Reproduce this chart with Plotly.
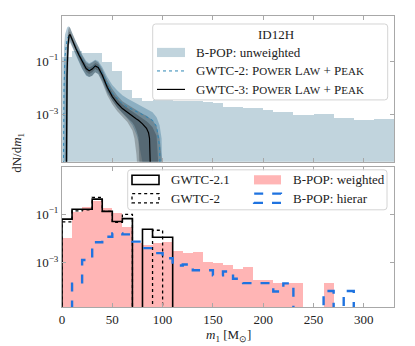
import numpy as np
import plotly.graph_objects as go
from plotly.subplots import make_subplots

# 10 Msun wide bins shared by every histogram
bin_edges = list(range(0, 340, 10))

# top panel: B-POP unweighted, log10(dN/dm1) per bin
log_unweighted = [-0.86, -0.62, -0.69, -0.69, -1.03, -1.36, -2.09, -2.40, -2.48, -2.47,
                  -2.47, -2.48, -2.49, -2.50, -2.52, -2.58, -2.71, -2.71, -2.77, -2.77,
                  -2.84, -2.90, -2.90, -3.02, -3.02, -3.00, -3.00, -3.15, -3.15, -3.20,
                  -3.20, -3.17, -3.17]

# Power Law + Peak fits, log10 values on a common mass grid (-8 = off the axis)
m_grid = [1, 2, 3, 4, 4.5, 5, 6, 7, 8, 10, 12, 14, 17, 20, 24, 27, 30, 33, 36, 40,
          45, 50, 55, 60, 65, 70, 72, 74, 76, 80, 84, 86, 87, 88, 90, 94, 97, 99, 101]
gwtc3_med = [-8, -8, -8, -8, -4.0, -1.5, -0.4, -0.05, 0.0, -0.2, -0.38, -0.55, -0.78, -1.02,
             -1.28, -1.36, -1.30, -1.18, -1.24, -1.52, -1.98, -2.33, -2.58, -2.78, -2.93,
             -3.07, -3.12, -3.17, -3.22, -3.35, -3.52, -3.68, -3.9, -8, -8, -8, -8, -8, -8]
gwtc3_hi90 = [-8, -8, -8, -1.0, -0.6, -0.3, 0.15, 0.28, 0.25, 0.05, -0.13, -0.3, -0.52, -0.78,
              -1.05, -1.12, -1.05, -0.98, -1.05, -1.3, -1.72, -2.05, -2.3, -2.5, -2.63,
              -2.75, -2.8, -2.85, -2.88, -2.97, -3.05, -3.1, -3.13, -3.16, -3.22, -3.45,
              -3.9, -4.6, -8]
gwtc3_lo90 = [-8, -8, -8, -8, -8, -8, -1.5, -0.35, -0.25, -0.42, -0.6, -0.78, -1.02, -1.28,
              -1.52, -1.6, -1.55, -1.42, -1.48, -1.8, -2.28, -2.62, -2.88, -3.08, -3.28,
              -3.6, -3.9, -4.5, -8, -8, -8, -8, -8, -8, -8, -8, -8, -8, -8]
gwtc3_hi50 = [-8, -8, -8, -8, -2.0, -0.9, -0.1, 0.1, 0.1, -0.1, -0.27, -0.44, -0.66, -0.9,
              -1.16, -1.24, -1.18, -1.07, -1.13, -1.40, -1.85, -2.18, -2.43, -2.62, -2.76,
              -2.89, -2.94, -2.99, -3.03, -3.13, -3.25, -3.32, -3.36, -3.40, -3.48, -3.8,
              -8, -8, -8]
gwtc3_lo50 = [-8, -8, -8, -8, -8, -8, -0.8, -0.2, -0.12, -0.3, -0.49, -0.66, -0.9, -1.14,
              -1.40, -1.48, -1.42, -1.30, -1.36, -1.66, -2.12, -2.48, -2.74, -2.95, -3.12,
              -3.3, -3.42, -3.6, -3.85, -8, -8, -8, -8, -8, -8, -8, -8, -8, -8]
gwtc2_med = [-8, -2.0, -0.8, -0.4, -0.3, -0.2, -0.1, -0.05, -0.05, -0.2, -0.38, -0.55, -0.78,
             -1.0, -1.25, -1.33, -1.28, -1.15, -1.2, -1.45, -1.88, -2.2, -2.42, -2.6, -2.72,
             -2.83, -2.87, -2.9, -2.93, -3.0, -3.08, -3.12, -3.14, -3.16, -3.22, -3.45,
             -4.2, -8, -8]
gwtc2_hi = [-8, -0.5, 0.0, 0.15, 0.2, 0.25, 0.3, 0.3, 0.25, 0.05, -0.12, -0.28, -0.5, -0.75,
            -1.0, -1.08, -1.02, -0.95, -1.0, -1.22, -1.6, -1.9, -2.1, -2.28, -2.4, -2.5,
            -2.54, -2.58, -2.62, -2.7, -2.78, -2.82, -2.84, -2.86, -2.92, -3.1, -3.4, -3.9, -8]
gwtc2_lo = [-8, -8, -8, -8, -8, -8, -1.0, -0.4, -0.3, -0.45, -0.62, -0.8, -1.05, -1.3, -1.55,
            -1.6, -1.55, -1.42, -1.48, -1.75, -2.2, -2.5, -2.75, -2.95, -3.15, -3.4, -3.55,
            -3.75, -4.0, -4.8, -8, -8, -8, -8, -8, -8, -8, -8, -8]

# bottom panel histograms, log10(dN/dm1) per bin, None = empty bin
log_gwtc21 = [-1.20, -0.79, -0.79, -0.37, -0.88, -1.30, -1.18, None, -1.62, -1.95, -1.95]
log_gwtc2 = [-1.31, -0.86, -0.82, -0.30, -0.88, -1.33, -1.00, None, None, -1.66]
log_weighted = [-1.98, -0.90, -0.68, -0.42, -0.72, -0.95, -1.50, -2.19, -2.27, -2.16,
                -2.13, -2.50, -2.61, -2.54, -2.96, -3.02, -3.09, -3.27, -3.19, -3.69,
                -3.69, -3.85, -3.85, -3.85, None, None, -3.85]
log_hierar = [None, -3.87, -2.89, -2.16, -1.93, -1.79, -1.83, -2.13, -2.40, -2.61,
              -2.82, -3.12, -3.08, -3.32, -3.32, -3.53, -3.37, -3.67, -3.85, -3.85,
              -3.85, -4.20, -3.86, None, None, None, -4.18, None, -4.18]

x_ticks = [0, 50, 100, 150, 200, 250, 300]

FONT = "Liberation Serif, Times New Roman, serif"
FS = 13
SC = "<span style='font-size:11px'>"
plp_name = "P" + SC + "OWER</span> L" + SC + "AW</span> + P" + SC + "EAK</span>"

C_UNW = "#c1d4dd"
C_PINK = "#ffb5b5"
C_HIER = "#1f73e0"
C_G2 = "#2d86b5"


def lin(vals):
  return [10 ** v if v is not None else None for v in vals]


def padded(vals):
  return list(vals) + [None] * (len(bin_edges) - 1 - len(vals))


def step_xy(vals):
  # matplotlib style "step" outline that drops to the floor at empty bins
  ys = [10 ** v if v is not None else 1e-9 for v in padded(vals)]
  return [bin_edges[0]] + bin_edges, [1e-9] + ys + [1e-9]


centers = [e + 5 for e in bin_edges[:-1]]

fig = make_subplots(rows=2, cols=1, shared_xaxes=False)

# ---- top panel
fig.add_trace(go.Bar(x=centers, y=lin(log_unweighted), width=10, marker_color=C_UNW,
                     marker_line_width=0, name="B-POP: unweighted"), row=1, col=1)


def band(lo, hi, color):
  fig.add_trace(go.Scatter(x=m_grid, y=lin(lo), mode="lines", line_width=0,
                           hoverinfo="skip"), row=1, col=1)
  fig.add_trace(go.Scatter(x=m_grid, y=lin(hi), mode="lines", line_width=0, fill="tonexty",
                           fillcolor=color, hoverinfo="skip"), row=1, col=1)


band(gwtc2_lo, gwtc2_hi, "rgba(55,115,150,0.38)")
band(gwtc3_lo90, gwtc3_hi90, "rgba(45,45,45,0.30)")
band(gwtc3_lo50, gwtc3_hi50, "rgba(40,50,55,0.35)")
fig.add_trace(go.Scatter(x=m_grid, y=lin(gwtc2_med), mode="lines",
                         line=dict(color=C_G2, width=1, dash="dot")), row=1, col=1)
fig.add_trace(go.Scatter(x=m_grid, y=lin(gwtc3_med), mode="lines",
                         line=dict(color="black", width=1.2)), row=1, col=1)

# ---- bottom panel
fig.add_trace(go.Bar(x=centers, y=lin(padded(log_weighted)), width=10, marker_color=C_PINK,
                     marker_line_width=0), row=2, col=1)
sx, sy = step_xy(log_gwtc21)
fig.add_trace(go.Scatter(x=sx, y=sy, mode="lines", line_shape="hv",
                         line=dict(color="black", width=1.6)), row=2, col=1)
sx, sy = step_xy(log_gwtc2)
fig.add_trace(go.Scatter(x=sx, y=sy, mode="lines", line_shape="hv",
                         line=dict(color="black", width=1.3, dash="dot")), row=2, col=1)
sx, sy = step_xy(log_hierar)
fig.add_trace(go.Scatter(x=sx, y=sy, mode="lines", line_shape="hv",
                         line=dict(color=C_HIER, width=2.4, dash="dash")), row=2, col=1)

axis = dict(showline=True, linecolor="#a8a8a8", linewidth=1, mirror="ticks", ticks="inside",
            ticklen=4, tickcolor="#a8a8a8", showgrid=False, zeroline=False,
            tickfont=dict(family=FONT, size=FS, color="#222"))
fig.update_xaxes(axis, range=[0, 330], tickvals=x_ticks)
fig.update_xaxes(showticklabels=False, row=1, col=1)
fig.update_yaxes(axis, type="log", tickvals=[0.1, 0.001],
                 ticktext=["10<sup>\u22121</sup>", "10<sup>\u22123</sup>"])
# page body adds an 8 px offset, so the figure is 8 px smaller and the margins shift
fig.update_layout(
    width=407, height=338, margin=dict(l=54, r=21, t=8, b=39, autoexpand=False),
    paper_bgcolor="white", plot_bgcolor="white", bargap=0, barmode="overlay",
    font=dict(family=FONT, size=FS, color="#222"), showlegend=False,
    yaxis=dict(domain=[0.4993, 1], range=[-4.77, 0.69]),
    yaxis2=dict(domain=[0, 0.482], range=[-4.84, 0.97]),
)


# ---- hand-drawn legends, positions in reference pixels of the plot area
def PX(px):
  return (px - 62) / 332


def PY(py):
  return (307.3 - py) / 291.3


def legend_box(x0, y0, x1, y1):
  rx, ry = 3 / 332, 3 / 291.3
  a, b, c, d = PX(x0), PY(y1), PX(x1), PY(y0)
  path = (f"M{a + rx},{b} L{c - rx},{b} Q{c},{b} {c},{b + ry} L{c},{d - ry} "
          f"Q{c},{d} {c - rx},{d} L{a + rx},{d} Q{a},{d} {a},{d - ry} L{a},{b + ry} "
          f"Q{a},{b} {a + rx},{b} Z")
  fig.add_shape(type="path", path=path, xref="paper", yref="paper", layer="above",
                fillcolor="rgba(255,255,255,0.8)", line=dict(color="#d4d4d4", width=1))


def label(x, y, text, xanchor="left", angle=0):
  fig.add_annotation(text=text, xref="paper", yref="paper", x=PX(x), y=PY(y),
                     xanchor=xanchor, yanchor="middle", showarrow=False, textangle=angle,
                     font=dict(family=FONT, size=FS, color="#222"))


def legend_rect(x0, x1, yc, fill=None, color=None, width=0, dash="solid"):
  fig.add_shape(type="rect", xref="paper", yref="paper", layer="above",
                x0=PX(x0), x1=PX(x1), y0=PY(yc + 4.6), y1=PY(yc - 4.6),
                fillcolor=fill or "rgba(0,0,0,0)",
                line=dict(color=color or "rgba(0,0,0,0)", width=width, dash=dash))


def legend_line(x0, x1, yc, color, width, dash="solid"):
  fig.add_shape(type="line", xref="paper", yref="paper", layer="above",
                x0=PX(x0), x1=PX(x1), y0=PY(yc), y1=PY(yc),
                line=dict(color=color, width=width, dash=dash))


legend_box(152.7, 24, 387.7, 100)
label(276, 35, "ID12H", xanchor="center")
legend_rect(157, 185, 52.5, fill=C_UNW)
label(194, 52.5, "B-POP: unweighted")
legend_line(157, 185, 71, C_G2, 1, "dot")
label(194, 71, "GWTC-2: " + plp_name)
legend_line(157, 185, 89.5, "black", 1.2)
label(194, 89.5, "GWTC-3: " + plp_name)

legend_box(127.7, 170, 387, 210)
legend_rect(132, 159, 180, color="black", width=1.6)
label(169, 180, "GWTC-2.1")
legend_rect(132, 159, 198.5, color="black", width=1.3, dash="dot")
label(169, 198.5, "GWTC-2")
legend_rect(254, 281, 180, fill=C_PINK)
label(291, 180, "B-POP: weighted")
legend_rect(254, 281, 198.5, color=C_HIER, width=2.2, dash="dash")
label(291, 198.5, "B-POP: hierar")

label(18, 153, "dN/d<i>m</i><sub>1</sub>", xanchor="center", angle=-90)
label(228.5, 335.5, "<i>m</i><sub>1</sub> [M<sub>\u2299</sub>]", xanchor="center")

fig.write_html("out.html")
